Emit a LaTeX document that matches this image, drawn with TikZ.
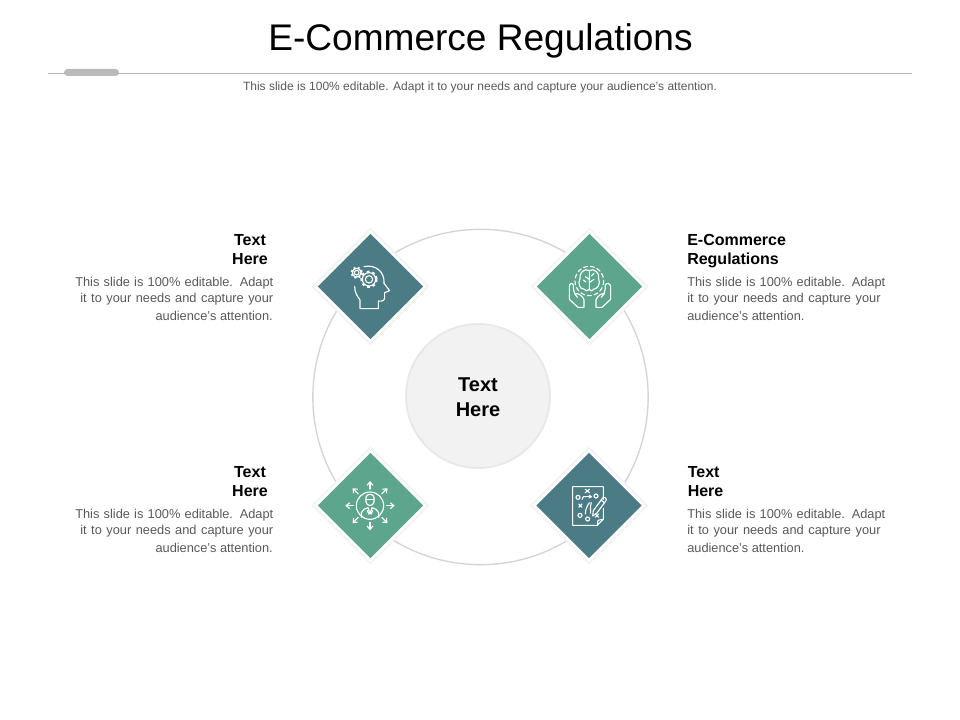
\documentclass[tikz,border=0pt]{standalone}
\usepackage{fontspec}
\setmainfont{Liberation Sans}
\usetikzlibrary{shapes.geometric,arrows.meta,calc}
\definecolor{teal1}{HTML}{4B7C86}
\definecolor{green1}{HTML}{5DA58D}
\definecolor{bodygray}{HTML}{595959}
\newcommand{\jline}[2]{\makebox[#1][s]{#2}}
\tikzset{
  x=0.75pt,y=-0.75pt,
  halo/.style={shape=diamond,minimum width=87pt,minimum height=87pt,inner sep=0pt,fill=white,draw=black!5,line width=1.2pt},
  gem/.style={shape=diamond,minimum width=79pt,minimum height=79pt,inner sep=0pt},
  body/.style={inner sep=0pt,text=bodygray,font=\fontsize{9.6}{12}\selectfont,anchor=west},
  head/.style={inner sep=0pt,text=black,font=\fontsize{12}{14.25}\selectfont\bfseries},
  icon/.style={draw=white,line width=0.85pt,line join=round,line cap=round,fill=none},
  zoomed/.style={x=0.25pt,y=-0.25pt},
  arrowicon/.style={icon,-{Straight Barb[length=2.6pt,width=4.4pt]}}
}
\begin{document}
\begin{tikzpicture}
\useasboundingbox (0,0) rectangle (960,720);
\fill[white] (0,0) rectangle (960,720);
% header
\node[inner sep=0pt,font=\fontsize{27.8}{30}\selectfont] (title) at (480.5,40.5) {E-Commerce Regulations};
\coordinate (ruleL) at (48,73);
\coordinate (ruleR) at (912,73);
\draw[draw=black!28,line width=0.6pt] (ruleL) -- (ruleR);
\fill[black!27,rounded corners=2.6pt] (64,69) rectangle (119,76);
\node[inner sep=0pt,text=bodygray,font=\fontsize{9}{12}\selectfont] (sub) at (480,87) {\jline{355.5pt}{This slide is 100\% editable. Adapt it to your needs and capture your audience's attention.}};
% circles
\node[circle,draw=black!17,line width=1pt,minimum size=251.5pt,inner sep=0pt] (ring) at (480.5,397) {};
\node[circle,fill=black!5,draw=black!9,line width=1.4pt,minimum size=108pt,inner sep=0pt] (hub) at (478,396) {};
\node[inner sep=0pt,font=\fontsize{15}{18.75}\selectfont\bfseries,align=center] (hubtext) at (478,397.5) {Text\\Here};
% diamonds
\node[halo] (h1) at (370.5,286.5) {};
\node[halo] (h2) at (589.5,286.5) {};
\node[halo] (h3) at (370.5,505.5) {};
\node[halo] (h4) at (589,505.5) {};
\node[gem,fill=teal1] (d1) at (370.5,286.5) {};
\node[gem,fill=green1] (d2) at (589.5,286.5) {};
\node[gem,fill=green1] (d3) at (370.5,505.5) {};
\node[gem,fill=teal1] (d4) at (589,505.5) {};
% icon 1: head with gears
\begin{scope}[shift={(300,220)},zoomed]
\draw[icon] (180,266) -- (180,240) .. controls (172,228) and (164,218) .. (164,200)
  (192,140) .. controls (225,132) and (255,155) .. (252,190) -- (269,212) -- (254,218) -- (254,233) .. controls (254,242) and (245,245) .. (235,243) -- (235,266) -- (180,266);
\draw[icon] (207,178) circle[radius=11];
\draw[icon] (207,178) circle[radius=20];
\draw[icon,line width=1.5pt,dash pattern=on 2pt off 2.2pt,line cap=butt] (207,178) circle[radius=23];
\draw[icon] (170,158) circle[radius=7];
\draw[icon] (170,158) circle[radius=13];
\draw[icon,line width=1.5pt,dash pattern=on 1.5pt off 1.7pt,line cap=butt] (170,158) circle[radius=16];
\end{scope}
% icon 2: brain and hands
\begin{scope}[shift={(520,220)},zoomed]
\draw[icon] (208,152) .. controls (222,142) and (240,160) .. (236,176) .. controls (243,190) and (232,208) .. (222,207) .. controls (216,214) and (210,214) .. (208,208)
  .. controls (204,214) and (196,214) .. (191,207) .. controls (180,208) and (172,190) .. (180,176) .. controls (176,160) and (194,142) .. (208,152);
\draw[icon] (208,155) -- (208,208) (208,178) -- (196,170) (208,188) -- (222,178) (190,180) -- (198,186) (222,160) -- (214,168);
\draw[icon,dash pattern=on 3pt off 2.2pt] (208,183) circle[x radius=43,y radius=44];
\draw[icon] (172,232) .. controls (162,222) and (160,210) .. (160,196) .. controls (158,186) and (148,190) .. (148,200) -- (148,238) -- (174,262) -- (192,262) -- (192,240) .. controls (190,228) and (170,216) .. (166,222);
\draw[icon] (244,232) .. controls (254,222) and (256,210) .. (256,196) .. controls (258,186) and (272,190) .. (272,200) -- (272,238) -- (246,262) -- (228,262) -- (228,240) .. controls (230,228) and (250,216) .. (254,222);
\end{scope}
% icon 3: person with arrows
\begin{scope}[shift={(300,440)},zoomed]
\draw[icon] (210,197) circle[radius=41];
\draw[icon] (198,172) .. controls (198,160) and (222,160) .. (222,172) -- (222,186) .. controls (220,200) and (200,200) .. (198,186) -- cycle;
\draw[icon] (198,178) -- (222,178);
\draw[icon] (184,232) -- (184,218) .. controls (186,208) and (196,206) .. (204,203) -- (210,222) -- (216,203) .. controls (224,206) and (234,208) .. (236,218) -- (236,232);
\draw[icon] (202,212) -- (206,222) -- (210,214) -- (214,222) -- (218,212);
\coordinate (c3) at (210,197);
\foreach \a in {0,45,...,315}{
  \draw[arrowicon] ($(c3)+(\a:50)$) -- ($(c3)+(\a:74)$);
}
\end{scope}
% icon 4: playbook
\begin{scope}[shift={(520,440)},zoomed]
\draw[icon] (250,178) -- (250,140) -- (158,140) -- (158,256) -- (232,256) -- (250,238) -- (250,205);
\draw[icon] (232,256) -- (234,241) -- (250,238);
\draw[icon] (196,148) -- (208,158) (208,148) -- (196,158);
\draw[icon] (176,192) -- (186,202) (186,192) -- (176,202);
\draw[icon] (226,222) -- (236,232) (236,222) -- (226,232);
\draw[icon] (174,172) circle[radius=6];
\draw[icon] (228,168) circle[radius=6];
\draw[icon] (180,226) circle[radius=6];
\draw[icon] (203,237) circle[radius=6];
\draw[icon] (186,178) -- (190,170) -- (214,170);
\draw[icon] (208,166) -- (214,170) -- (208,174);
\draw[icon] (208,188) .. controls (200,200) and (196,210) .. (196,222);
\draw[icon] (214,188) .. controls (210,200) and (212,210) .. (212,220);
\draw[icon] (218,228) -- (220,212) -- (248,174) .. controls (252,168) and (262,176) .. (258,182) -- (230,220) -- cycle;
\draw[icon] (243,180) -- (253,188);
\end{scope}
% left texts
\node[head,align=center] (t1) at (250,249.5) {Text\\Here\ };
\node[body] (b1a) at (75,283.5) {\jline{148.5pt}{This slide is 100\% editable. Adapt}};
\node[body] (b1b) at (80,299.5) {\jline{144.75pt}{it to your needs and capture your}};
\node[body,anchor=east] (b1c) at (273,315.5) {audience's attention.};
\node[head,align=center] (t3) at (250,481.5) {Text\\Here\ };
\node[body] (b3a) at (75,515.5) {\jline{148.5pt}{This slide is 100\% editable. Adapt}};
\node[body] (b3b) at (80,531.5) {\jline{144.75pt}{it to your needs and capture your}};
\node[body,anchor=east] (b3c) at (273,547.5) {audience's attention.};
% right texts
\node[head,align=left,anchor=west] (t2) at (687,251) {E-Commerce\\Regulations};
\node[body] (b2a) at (687,283.5) {\jline{148.5pt}{This slide is 100\% editable. Adapt}};
\node[body] (b2b) at (687,299.5) {\jline{145pt}{it to your needs and capture your}};
\node[body] (b2c) at (687,315.5) {audience's attention.};
\node[head,align=left,anchor=west] (t4) at (687.5,481.5) {Text\\Here};
\node[body] (b4a) at (687,515.5) {\jline{148.5pt}{This slide is 100\% editable. Adapt}};
\node[body] (b4b) at (687,531.5) {\jline{145pt}{it to your needs and capture your}};
\node[body] (b4c) at (687,547.5) {audience's attention.};
\end{tikzpicture}
\end{document}
